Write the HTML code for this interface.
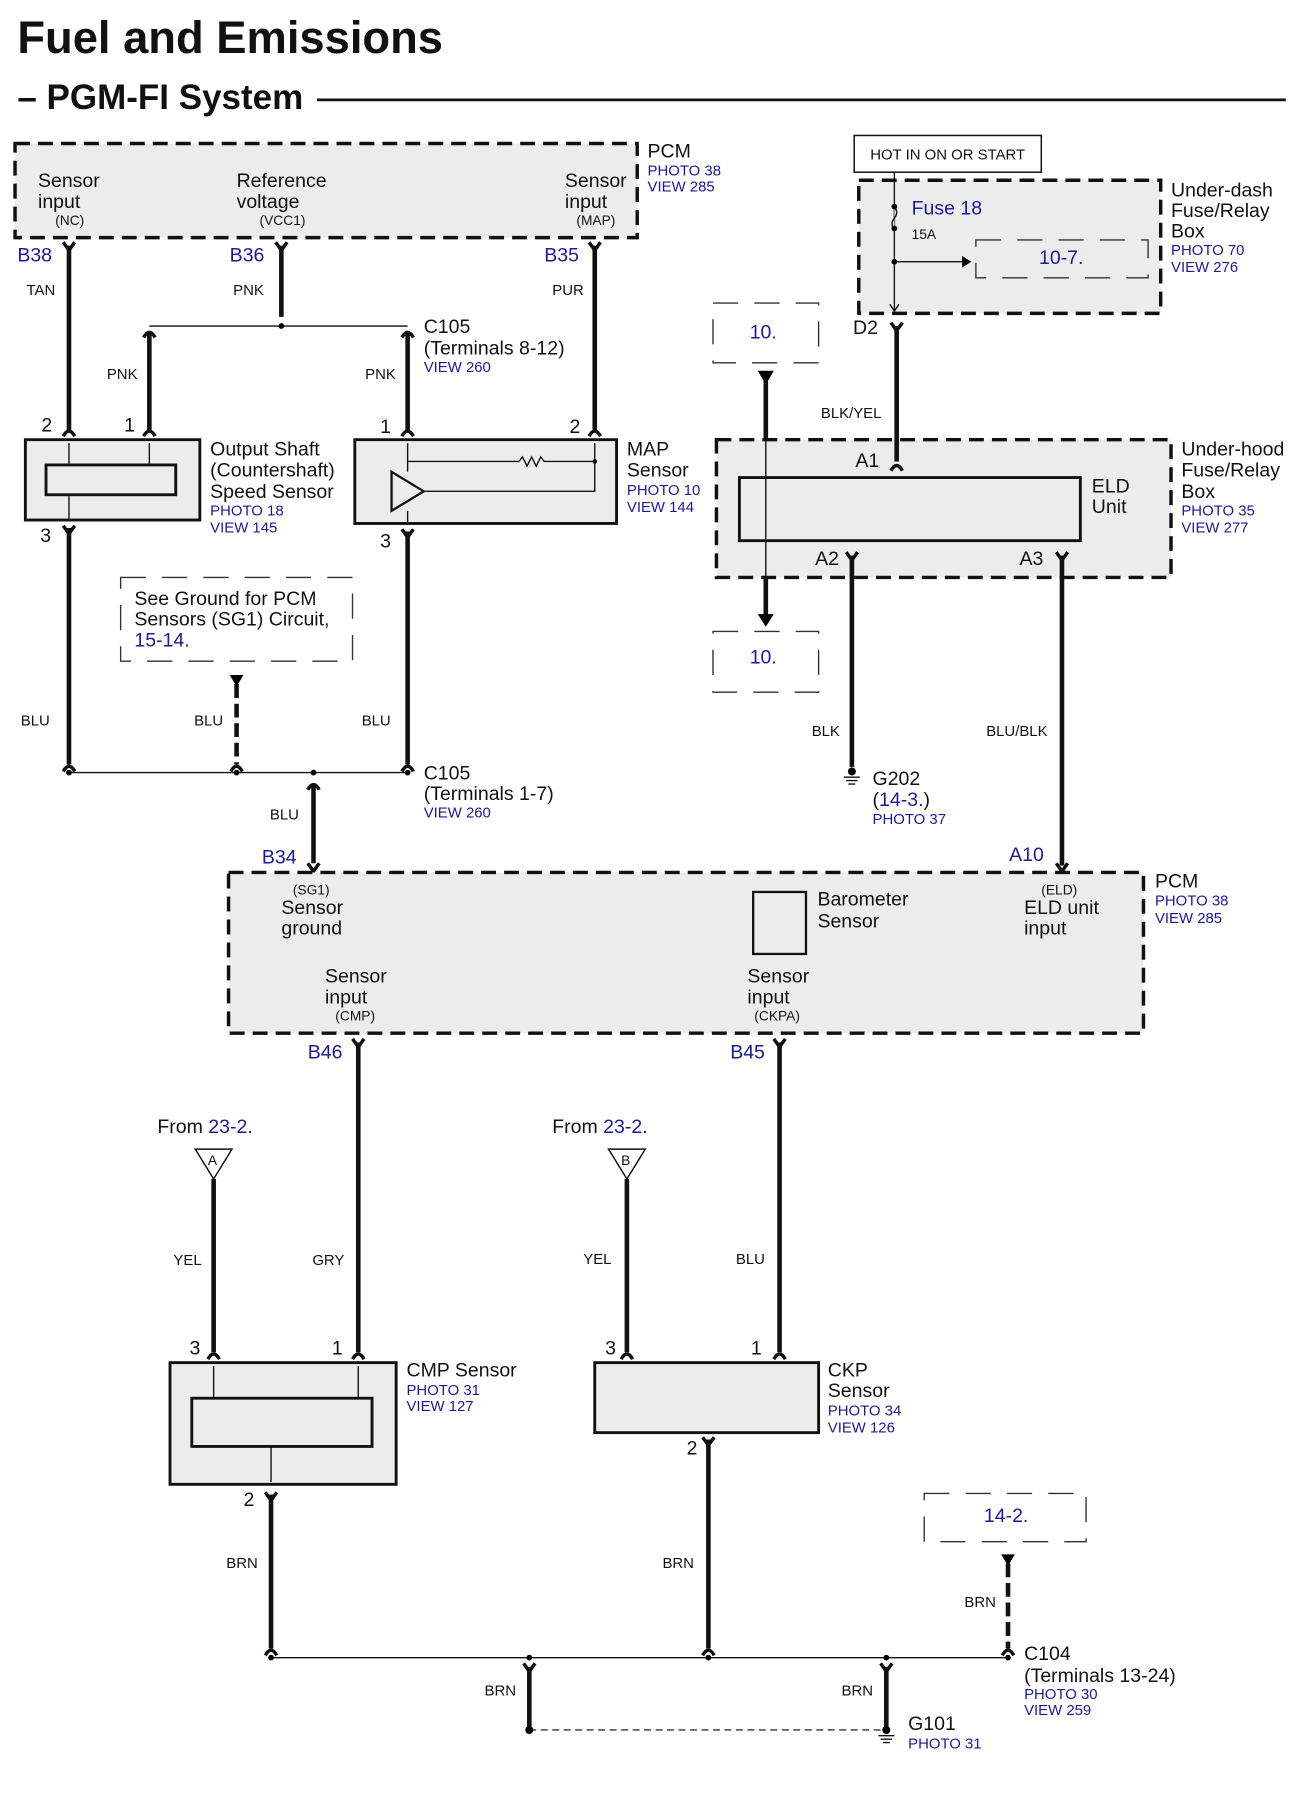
<!DOCTYPE html>
<html><head><meta charset="utf-8"><style>
html,body{margin:0;padding:0;background:#fff}
svg{display:block}
text{font-family:"Liberation Sans",Arial,sans-serif;fill:#111}
.b{fill:#1a1a9a}
.t{font-size:17px}.s{font-size:13px}.xs{font-size:12px}
.w{stroke:#111;stroke-width:4;fill:none}
.thin{stroke:#111;stroke-width:1.2;fill:none}
.box{fill:#ececec;stroke:#111;stroke-width:3;stroke-dasharray:13,7}
.nb{fill:none;stroke:#333;stroke-width:1.2;stroke-dasharray:22,14}
.sb{fill:#ececec;stroke:#111;stroke-width:2.5}
</style></head><body>
<svg width="1302" height="1800" viewBox="0 0 1134 1568" xmlns="http://www.w3.org/2000/svg">
<defs>
<path id="y" d="M-5,-7 L0,0 L5,-7" fill="none" stroke="#111" stroke-width="3"/>
<path id="n" d="M-5,6 Q0,-3 5,6" fill="none" stroke="#111" stroke-width="3"/>
</defs>
<text x="15" y="46" style="font-size:39.5px;font-weight:bold">Fuel and Emissions</text>
<text x="15" y="95" style="font-size:30.5px;font-weight:bold">– PGM-FI System</text>
<line x1="276" y1="87" x2="1120" y2="87" stroke="#111" stroke-width="2.5"/>

<!-- PCM top -->
<rect x="13" y="125" width="542" height="82" class="box"/>
<text class="t" x="33" y="163">Sensor</text><text class="t" x="33" y="181">input</text><text class="xs" x="48" y="196">(NC)</text>
<text class="t" x="206" y="163">Reference</text><text class="t" x="206" y="181">voltage</text><text class="xs" x="226" y="196">(VCC1)</text>
<text class="t" x="492" y="163">Sensor</text><text class="t" x="492" y="181">input</text><text class="xs" x="502" y="196">(MAP)</text>
<text class="t" x="564" y="137">PCM</text><text class="s b" x="564" y="153">PHOTO 38</text><text class="s b" x="564" y="167">VIEW 285</text>
<text class="t b" x="15" y="228">B38</text><text class="t b" x="200" y="228">B36</text><text class="t b" x="474" y="228">B35</text>
<use href="#y" x="60" y="218"/><use href="#y" x="245" y="218"/><use href="#y" x="518" y="218"/>
<path class="w" d="M60,214V376M245,214V276M518,214V376M130,290V376M355,290V376"/>
<use href="#n" x="130" y="288"/><use href="#n" x="355" y="288"/>
<use href="#n" x="60" y="374"/><use href="#n" x="130" y="374"/><use href="#n" x="355" y="374"/><use href="#n" x="518" y="374"/>
<line class="thin" x1="130" y1="284" x2="355" y2="284"/><circle cx="245" cy="284" r="2.5"/>
<text class="s" x="23" y="257">TAN</text><text class="s" x="203" y="257">PNK</text><text class="s" x="481" y="257">PUR</text>
<text class="s" x="93" y="330">PNK</text><text class="s" x="318" y="330">PNK</text>
<text class="t" x="369" y="290">C105</text><text class="t" x="369" y="309">(Terminals 8-12)</text><text class="s b" x="369" y="324">VIEW 260</text>

<!-- Output shaft sensor -->
<rect x="22" y="383" width="152" height="70" class="sb"/>
<rect x="40" y="405" width="113" height="26" fill="#ececec" stroke="#111" stroke-width="2.5"/>
<path class="thin" d="M60,405V386M130,405V386M60,431V452"/>
<text class="t" x="36" y="376">2</text><text class="t" x="108" y="376">1</text><text class="t" x="35" y="472">3</text>
<text class="t" x="183" y="397">Output Shaft</text><text class="t" x="183" y="415">(Countershaft)</text><text class="t" x="183" y="434">Speed Sensor</text>
<text class="s b" x="183" y="449">PHOTO 18</text><text class="s b" x="183" y="464">VIEW 145</text>

<!-- MAP sensor -->
<rect x="309" y="383" width="228" height="73" class="sb"/>
<path d="M341,411L369,428L341,445Z" fill="none" stroke="#111" stroke-width="2"/>
<path class="thin" d="M355,386V411M355,445V456M369,428H518V386M355,402H452l3,-4 4,8 4,-8 4,8 4,-8 3,4H518"/>
<circle cx="518" cy="402" r="2"/>
<text class="t" x="331" y="377">1</text><text class="t" x="496" y="377">2</text><text class="t" x="331" y="477">3</text>
<text class="t" x="546" y="397">MAP</text><text class="t" x="546" y="415">Sensor</text><text class="s b" x="546" y="431">PHOTO 10</text><text class="s b" x="546" y="446">VIEW 144</text>

<!-- BLU section -->
<use href="#y" x="60" y="465"/><use href="#y" x="355" y="468"/>
<path class="w" d="M60,460V666M355,463V666"/>
<path class="w" d="M206,596V666" stroke-dasharray="12,5"/>
<path d="M200,588H212L206,598Z"/>
<use href="#n" x="60" y="666"/><use href="#n" x="206" y="666"/><use href="#n" x="355" y="666"/>
<rect x="105" y="503" width="202" height="73" class="nb"/>
<text class="t" x="117" y="527">See Ground for PCM</text><text class="t" x="117" y="545">Sensors (SG1) Circuit,</text><text class="t b" x="117" y="563">15-14.</text>
<text class="s" x="18" y="632">BLU</text><text class="s" x="169" y="632">BLU</text><text class="s" x="315" y="632">BLU</text>
<line class="thin" x1="60" y1="673" x2="355" y2="673"/>
<circle cx="60" cy="673" r="2.5"/><circle cx="206" cy="673" r="2.5"/><circle cx="273" cy="673" r="2.5"/><circle cx="355" cy="673" r="2.5"/>
<use href="#n" x="273" y="682"/>
<path class="w" d="M273,684V752"/><use href="#y" x="273" y="759"/>
<text class="t" x="369" y="679">C105</text><text class="t" x="369" y="697">(Terminals 1-7)</text><text class="s b" x="369" y="712">VIEW 260</text>
<text class="s" x="235" y="714">BLU</text><text class="t b" x="228" y="752">B34</text>

<!-- PCM middle -->
<rect x="199" y="760" width="797" height="140" class="box"/>
<text class="xs" x="255" y="779">(SG1)</text><text class="t" x="245" y="796">Sensor</text><text class="t" x="245" y="814">ground</text>
<rect x="656" y="777" width="46" height="54" fill="#ececec" stroke="#111" stroke-width="2"/>
<text class="t" x="712" y="789">Barometer</text><text class="t" x="712" y="808">Sensor</text>
<text class="xs" x="907" y="779">(ELD)</text><text class="t" x="892" y="796">ELD unit</text><text class="t" x="892" y="814">input</text>
<text class="t" x="283" y="856">Sensor</text><text class="t" x="283" y="874">input</text><text class="xs" x="292" y="889">(CMP)</text>
<text class="t" x="651" y="856">Sensor</text><text class="t" x="651" y="874">input</text><text class="xs" x="657" y="889">(CKPA)</text>
<text class="t" x="1006" y="773">PCM</text><text class="s b" x="1006" y="789">PHOTO 38</text><text class="s b" x="1006" y="804">VIEW 285</text>
<text class="t b" x="879" y="750">A10</text><use href="#y" x="925" y="759"/>
<text class="t b" x="268" y="922">B46</text><text class="t b" x="636" y="922">B45</text>
<use href="#y" x="312" y="912"/><use href="#y" x="679" y="912"/>
<path class="w" d="M312,908V1178M679,908V1178"/>

<!-- From 23-2 -->
<text class="t" x="137" y="987">From <tspan class="b">23-2</tspan>.</text>
<text class="t" x="481" y="987">From <tspan class="b">23-2</tspan>.</text>
<path d="M170,1001H202L186,1027Z" fill="#fff" stroke="#111" stroke-width="1.3"/><text class="xs" x="181" y="1015">A</text>
<path d="M530,1001H562L546,1027Z" fill="#fff" stroke="#111" stroke-width="1.3"/><text class="xs" x="541" y="1015">B</text>
<path class="w" d="M186,1027V1178M546,1027V1178"/>
<use href="#n" x="186" y="1178"/><use href="#n" x="312" y="1178"/><use href="#n" x="546" y="1178"/><use href="#n" x="679" y="1178"/>
<text class="s" x="151" y="1102">YEL</text><text class="s" x="272" y="1102">GRY</text><text class="s" x="508" y="1101">YEL</text><text class="s" x="641" y="1101">BLU</text>

<!-- CMP -->
<rect x="148" y="1187" width="197" height="106" class="sb"/>
<rect x="167" y="1218" width="157" height="42" fill="#ececec" stroke="#111" stroke-width="2.5"/>
<path class="thin" d="M186,1218V1190M312,1218V1190M236,1260V1291"/>
<text class="t" x="165" y="1180">3</text><text class="t" x="289" y="1180">1</text><text class="t" x="212" y="1312">2</text>
<text class="t" x="354" y="1199">CMP Sensor</text><text class="s b" x="354" y="1215">PHOTO 31</text><text class="s b" x="354" y="1229">VIEW 127</text>
<!-- CKP -->
<rect x="518" y="1187" width="195" height="61" class="sb"/>
<text class="t" x="527" y="1180">3</text><text class="t" x="654" y="1180">1</text><text class="t" x="598" y="1267">2</text>
<text class="t" x="721" y="1199">CKP</text><text class="t" x="721" y="1217">Sensor</text><text class="s b" x="721" y="1233">PHOTO 34</text><text class="s b" x="721" y="1248">VIEW 126</text>

<!-- BRN -->
<use href="#y" x="236" y="1307"/><use href="#y" x="617" y="1259"/>
<path class="w" d="M236,1302V1436M617,1254V1436"/>
<use href="#n" x="236" y="1436"/><use href="#n" x="617" y="1436"/><use href="#n" x="878" y="1436"/>
<text class="s" x="197" y="1366">BRN</text><text class="s" x="577" y="1366">BRN</text>
<line class="thin" x1="236" y1="1444" x2="878" y2="1444"/>
<circle cx="236" cy="1444" r="2.5"/><circle cx="461" cy="1444" r="2.5"/><circle cx="617" cy="1444" r="2.5"/><circle cx="772" cy="1444" r="2.5"/><circle cx="878" cy="1444" r="2.5"/>
<use href="#y" x="461" y="1456"/><use href="#y" x="772" y="1456"/>
<path class="w" d="M461,1452V1505M772,1452V1505"/>
<text class="s" x="422" y="1477">BRN</text><text class="s" x="733" y="1477">BRN</text>
<line x1="461" y1="1507" x2="772" y2="1507" stroke="#333" stroke-width="1.2" stroke-dasharray="6,4"/>
<circle cx="461" cy="1507" r="3.5"/><circle cx="772" cy="1507" r="3.5"/>
<path class="thin" d="M765,1512H779M767,1515H777M769,1518H775"/>
<text class="t" x="791" y="1507">G101</text><text class="s b" x="791" y="1523">PHOTO 31</text>
<rect x="805" y="1301" width="141" height="42" class="nb"/><text class="t b" x="857" y="1326">14-2.</text>
<path d="M872,1354H884L878,1364Z"/>
<path class="w" d="M878,1362V1436" stroke-dasharray="12,5"/>
<text class="s" x="840" y="1400">BRN</text>
<text class="t" x="892" y="1446">C104</text><text class="t" x="892" y="1465">(Terminals 13-24)</text><text class="s b" x="892" y="1480">PHOTO 30</text><text class="s b" x="892" y="1494">VIEW 259</text>

<!-- Right top -->
<rect x="744" y="118" width="163" height="32" fill="#fff" stroke="#111" stroke-width="1.3"/>
<text class="s" x="758" y="139">HOT IN ON OR START</text>
<rect x="748" y="157" width="263" height="116" class="box"/>
<path class="thin" d="M779,150V200M779,200V270M779,228H840"/>
<path d="M779,200q-4,-5 0,-10 q4,-5 0,-10" fill="#ececec" stroke="#111" stroke-width="1.2"/>
<circle cx="779" cy="199" r="2.5"/><circle cx="779" cy="180" r="2.5"/><circle cx="779" cy="228" r="2.5"/>
<path d="M838,223L846,228L838,233Z"/><path class="thin" d="M775,265L779,271L783,265"/>
<rect x="850" y="209" width="150" height="33" class="nb"/><text class="t b" x="905" y="230">10-7.</text>
<text class="t b" x="794" y="187">Fuse 18</text><text class="xs" x="794" y="208">15A</text>
<text class="t" x="1020" y="171">Under-dash</text><text class="t" x="1020" y="189">Fuse/Relay</text><text class="t" x="1020" y="207">Box</text>
<text class="s b" x="1020" y="222">PHOTO 70</text><text class="s b" x="1020" y="237">VIEW 276</text>
<text class="t" x="743" y="291">D2</text><use href="#y" x="781" y="288"/>

<rect x="624" y="383" width="396" height="120" class="box"/>
<path class="w" d="M781,284V402"/>
<use href="#n" x="781" y="404"/>
<text class="s" x="715" y="364">BLK/YEL</text>
<rect x="644" y="416" width="297" height="55" fill="#ececec" stroke="#111" stroke-width="2.5"/>
<text class="t" x="745" y="407">A1</text>
<text class="t" x="951" y="429">ELD</text><text class="t" x="951" y="447">Unit</text>
<text class="t" x="710" y="492">A2</text><text class="t" x="888" y="492">A3</text>
<path class="w" d="M925,484V754"/>
<use href="#y" x="742" y="488"/><use href="#y" x="925" y="488"/>
<text class="t" x="1029" y="397">Under-hood</text><text class="t" x="1029" y="415">Fuse/Relay</text><text class="t" x="1029" y="434">Box</text>
<text class="s b" x="1029" y="449">PHOTO 35</text><text class="s b" x="1029" y="464">VIEW 277</text>

<rect x="621" y="264" width="92" height="52" class="nb"/><text class="t b" x="653" y="295">10.</text>
<path d="M660,323H674L667,335Z"/>
<path class="w" d="M667,330V383M667,503V537"/><line class="thin" x1="667" y1="383" x2="667" y2="503"/>
<path d="M660,535H674L667,546Z"/>
<rect x="621" y="550" width="92" height="53" class="nb"/><text class="t b" x="653" y="578">10.</text>

<path class="w" d="M742,484V668"/><circle cx="742" cy="672" r="3.5"/>
<path class="thin" d="M735,677H749M737,680H747M739,683H745"/>
<text class="s" x="707" y="641">BLK</text><text class="s" x="859" y="641">BLU/BLK</text>
<text class="t" x="760" y="684">G202</text><text class="t" x="760" y="702">(<tspan class="b">14-3.</tspan>)</text><text class="s b" x="760" y="718">PHOTO 37</text>
</svg>
</body></html>
